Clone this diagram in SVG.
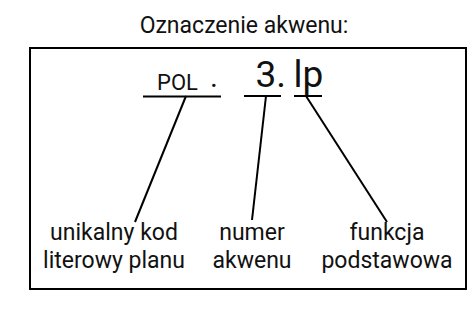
<svg xmlns="http://www.w3.org/2000/svg" width="476" height="323" viewBox="0 0 476 323">
<style>
text{font-family:Roboto,"Liberation Sans",sans-serif;fill:#111;}
.t{font-size:23px;text-anchor:middle;}
.big{font-size:37px;}
.ln{stroke:#000;stroke-width:2;fill:none;}
</style>
<rect width="476" height="323" fill="#fff"/>
<g id="title"><text class="t" x="244" y="33">Oznaczenie akwenu:</text></g>
<g id="frame"><rect class="ln" x="30" y="48" width="436" height="241"/></g>
<g id="code">
<text x="157" y="90" style="font-size:22px">POL</text>
<text x="210" y="87" style="font-size:30px">.</text>
<line class="ln" x1="143" y1="96.5" x2="221" y2="96.5"/>
</g>
<g id="number">
<text class="big" x="255.5" y="87">3.</text>
<line class="ln" x1="244" y1="96" x2="281" y2="96"/>
</g>
<g id="function">
<text class="big" x="293.5" y="87">lp</text>
<line class="ln" x1="294" y1="96" x2="322" y2="96"/>
</g>
<g id="connectors">
<line class="ln" x1="186" y1="96" x2="135" y2="222"/>
<line class="ln" x1="266" y1="96" x2="252" y2="220"/>
<line class="ln" x1="306" y1="96" x2="387" y2="222"/>
</g>
<g id="label-code"><text class="t" x="114" y="240">unikalny kod</text><text class="t" x="114" y="268">literowy planu</text></g>
<g id="label-number"><text class="t" x="252" y="240">numer</text><text class="t" x="252" y="268">akwenu</text></g>
<g id="label-function"><text class="t" x="387" y="240">funkcja</text><text class="t" x="387" y="268">podstawowa</text></g>
</svg>
